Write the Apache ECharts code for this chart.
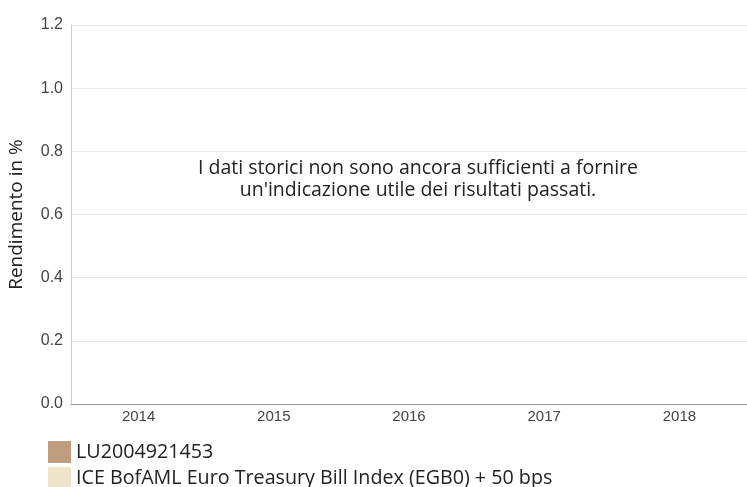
<!DOCTYPE html>
<html lang="it">
<head>
    <meta charset="utf-8">
    <title>Rendimento</title>
    <style>
        html, body { margin: 0; padding: 0; background: #fff; }
    </style>
</head>
<body>
    <div id="main" style="width:747px;height:487px;"></div>
    <script src="https://cdn.jsdelivr.net/npm/echarts@6/dist/echarts.min.js"></script>
    <script type="text/javascript">
        var years = ['2014', '2015', '2016', '2017', '2018'];
        var fundName = 'LU2004921453';
        var indexName = 'ICE BofAML Euro Treasury Bill Index (EGB0) + 50 bps';
        var fundValues = [];   // nessun dato storico
        var indexValues = [];
        var yTicks = [0, 0.2, 0.4, 0.6, 0.8, 1.0, 1.2];
        var note = "I dati storici non sono ancora sufficienti a fornire\nun'indicazione utile dei risultati passati.";

        var myChart = echarts.init(document.getElementById('main'));

        var legendText = {
            color: '#222',
            fontSize: 19.7,
            fontFamily: 'Open Sans'
        };

        var option = {
            animation: false,
            color: ['#c19e7f', '#f0e4c8'],
            grid: {
                left: 71,
                right: 0,
                top: 25,
                bottom: 83,
                containLabel: false,
                outerBoundsMode: 'none'
            },
            legend: [{
                left: 48,
                top: 441,
                padding: 0,
                itemWidth: 23,
                itemHeight: 22,
                icon: 'rect',
                data: [fundName],
                textStyle: legendText
            }, {
                left: 48,
                top: 467,
                padding: 0,
                itemWidth: 23,
                itemHeight: 22,
                icon: 'rect',
                data: [indexName],
                textStyle: legendText
            }],
            xAxis: {
                type: 'category',
                data: years,
                axisLine: { lineStyle: { color: '#999' } },
                axisTick: { show: false },
                axisLabel: {
                    color: '#444',
                    fontSize: 15,
                    fontFamily: 'Liberation Sans',
                    margin: 5
                }
            },
            yAxis: {
                type: 'value',
                min: yTicks[0],
                max: yTicks[yTicks.length - 1],
                interval: 0.2,
                name: 'Rendimento in %',
                nameLocation: 'middle',
                nameGap: 45,
                nameTextStyle: {
                    color: '#222',
                    fontSize: 19,
                    fontFamily: 'Open Sans'
                },
                axisLine: { show: true, lineStyle: { color: '#ccc' } },
                axisTick: { show: false },
                splitLine: { lineStyle: { color: '#e8e8e8' } },
                axisLabel: {
                    color: '#444',
                    fontSize: 16,
                    fontFamily: 'Liberation Sans',
                    margin: 8,
                    formatter: function (v) { return v.toFixed(1); }
                }
            },
            graphic: [{
                type: 'text',
                x: 418,
                y: 157,
                style: {
                    text: note,
                    align: 'center',
                    fill: '#222',
                    fontSize: 19.5,
                    lineHeight: 22,
                    fontFamily: 'Open Sans'
                }
            }],
            series: [{
                name: fundName,
                type: 'bar',
                data: fundValues
            }, {
                name: indexName,
                type: 'bar',
                data: indexValues
            }]
        };
        myChart.setOption(option);
    </script>
</body>
</html>
